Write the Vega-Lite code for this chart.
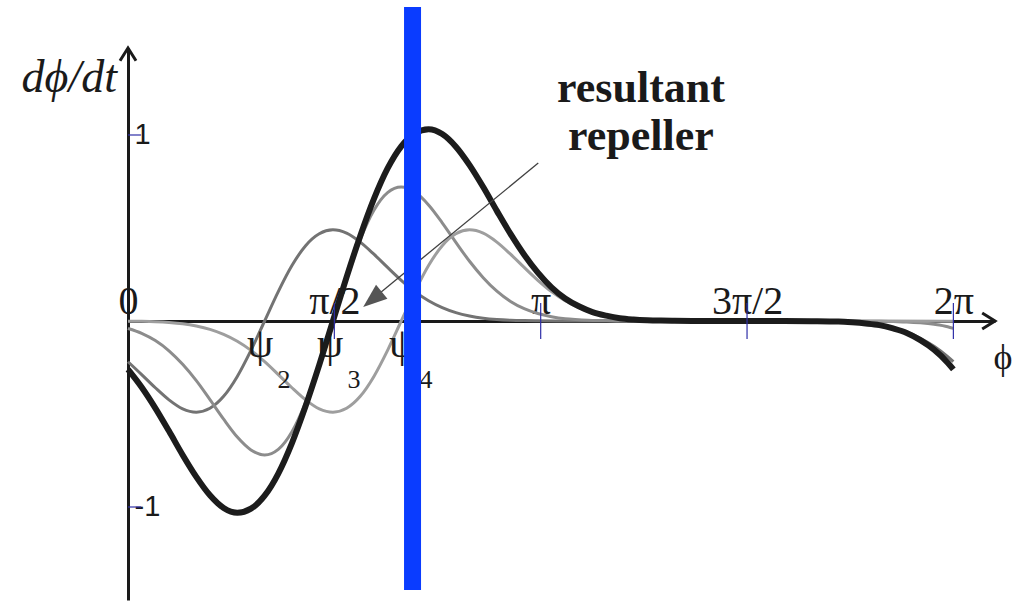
{
  "$schema": "https://vega.github.io/schema/vega-lite/v6.json",
  "width": 867,
  "height": 552,
  "autosize": {"type": "none"},
  "padding": {"left": 128, "top": 48, "right": 37, "bottom": 1},
  "background": "white",
  "config": {"view": {"stroke": null}},
  "data": {"values": [{}]},
  "datasets": {
    "curves": [
      {"s":"ψ2","p":0,"v":-0.219},{"s":"ψ2","p":0.104,"v":-0.288},{"s":"ψ2","p":0.208,"v":-0.359},{"s":"ψ2","p":0.312,"v":-0.424},{"s":"ψ2","p":0.416,"v":-0.472},{"s":"ψ2","p":0.52,"v":-0.49},{"s":"ψ2","p":0.624,"v":-0.469},{"s":"ψ2","p":0.728,"v":-0.405},{"s":"ψ2","p":0.832,"v":-0.298},{"s":"ψ2","p":0.936,"v":-0.158},{"s":"ψ2","p":1.04,"v":0},{"s":"ψ2","p":1.144,"v":0.158},{"s":"ψ2","p":1.248,"v":0.298},{"s":"ψ2","p":1.352,"v":0.405},{"s":"ψ2","p":1.456,"v":0.469},{"s":"ψ2","p":1.56,"v":0.49},{"s":"ψ2","p":1.664,"v":0.472},{"s":"ψ2","p":1.768,"v":0.424},{"s":"ψ2","p":1.872,"v":0.359},{"s":"ψ2","p":1.976,"v":0.288},{"s":"ψ2","p":2.08,"v":0.219},{"s":"ψ2","p":2.184,"v":0.158},{"s":"ψ2","p":2.288,"v":0.109},{"s":"ψ2","p":2.392,"v":0.072},{"s":"ψ2","p":2.496,"v":0.045},{"s":"ψ2","p":2.6,"v":0.027},{"s":"ψ2","p":2.704,"v":0.015},{"s":"ψ2","p":2.808,"v":0.008},{"s":"ψ2","p":2.912,"v":0.004},{"s":"ψ2","p":3.016,"v":0.002},{"s":"ψ2","p":3.12,"v":0.001},{"s":"ψ2","p":3.328,"v":0},{"s":"ψ2","p":4.16,"v":0},{"s":"ψ2","p":4.992,"v":0},{"s":"ψ2","p":5.2,"v":-0.001},{"s":"ψ2","p":5.408,"v":-0.003},{"s":"ψ2","p":5.512,"v":-0.007},{"s":"ψ2","p":5.616,"v":-0.012},{"s":"ψ2","p":5.72,"v":-0.021},{"s":"ψ2","p":5.824,"v":-0.037},{"s":"ψ2","p":5.928,"v":-0.059},{"s":"ψ2","p":6.032,"v":-0.093},{"s":"ψ2","p":6.136,"v":-0.136},{"s":"ψ2","p":6.24,"v":-0.192},{"s":"ψ2","p":6.283,"v":-0.219},
      {"s":"ψ3","p":0,"v":-0.04},{"s":"ψ3","p":0.104,"v":-0.066},{"s":"ψ3","p":0.208,"v":-0.105},{"s":"ψ3","p":0.312,"v":-0.16},{"s":"ψ3","p":0.416,"v":-0.233},{"s":"ψ3","p":0.52,"v":-0.321},{"s":"ψ3","p":0.624,"v":-0.423},{"s":"ψ3","p":0.728,"v":-0.528},{"s":"ψ3","p":0.832,"v":-0.624},{"s":"ψ3","p":0.936,"v":-0.693},{"s":"ψ3","p":1.04,"v":-0.72},{"s":"ψ3","p":1.144,"v":-0.69},{"s":"ψ3","p":1.248,"v":-0.595},{"s":"ψ3","p":1.352,"v":-0.438},{"s":"ψ3","p":1.456,"v":-0.233},{"s":"ψ3","p":1.56,"v":0},{"s":"ψ3","p":1.664,"v":0.233},{"s":"ψ3","p":1.768,"v":0.438},{"s":"ψ3","p":1.872,"v":0.595},{"s":"ψ3","p":1.976,"v":0.69},{"s":"ψ3","p":2.08,"v":0.72},{"s":"ψ3","p":2.184,"v":0.693},{"s":"ψ3","p":2.288,"v":0.624},{"s":"ψ3","p":2.392,"v":0.528},{"s":"ψ3","p":2.496,"v":0.423},{"s":"ψ3","p":2.6,"v":0.321},{"s":"ψ3","p":2.704,"v":0.233},{"s":"ψ3","p":2.808,"v":0.16},{"s":"ψ3","p":2.912,"v":0.105},{"s":"ψ3","p":3.016,"v":0.066},{"s":"ψ3","p":3.12,"v":0.04},{"s":"ψ3","p":3.224,"v":0.023},{"s":"ψ3","p":3.328,"v":0.012},{"s":"ψ3","p":3.432,"v":0.007},{"s":"ψ3","p":3.536,"v":0.003},{"s":"ψ3","p":3.64,"v":0.002},{"s":"ψ3","p":3.744,"v":0},{"s":"ψ3","p":4.368,"v":0},{"s":"ψ3","p":5.2,"v":0},{"s":"ψ3","p":5.616,"v":-0.001},{"s":"ψ3","p":5.72,"v":-0.001},{"s":"ψ3","p":5.824,"v":-0.003},{"s":"ψ3","p":5.928,"v":-0.005},{"s":"ψ3","p":6.032,"v":-0.01},{"s":"ψ3","p":6.136,"v":-0.018},{"s":"ψ3","p":6.24,"v":-0.031},{"s":"ψ3","p":6.283,"v":-0.04},
      {"s":"ψ4","p":0,"v":-0.001},{"s":"ψ4","p":0.104,"v":-0.002},{"s":"ψ4","p":0.208,"v":-0.004},{"s":"ψ4","p":0.312,"v":-0.008},{"s":"ψ4","p":0.416,"v":-0.015},{"s":"ψ4","p":0.52,"v":-0.027},{"s":"ψ4","p":0.624,"v":-0.045},{"s":"ψ4","p":0.728,"v":-0.072},{"s":"ψ4","p":0.832,"v":-0.109},{"s":"ψ4","p":0.936,"v":-0.158},{"s":"ψ4","p":1.04,"v":-0.219},{"s":"ψ4","p":1.144,"v":-0.288},{"s":"ψ4","p":1.248,"v":-0.359},{"s":"ψ4","p":1.352,"v":-0.424},{"s":"ψ4","p":1.456,"v":-0.472},{"s":"ψ4","p":1.56,"v":-0.49},{"s":"ψ4","p":1.664,"v":-0.469},{"s":"ψ4","p":1.768,"v":-0.405},{"s":"ψ4","p":1.872,"v":-0.298},{"s":"ψ4","p":1.976,"v":-0.158},{"s":"ψ4","p":2.08,"v":0},{"s":"ψ4","p":2.184,"v":0.158},{"s":"ψ4","p":2.288,"v":0.298},{"s":"ψ4","p":2.392,"v":0.405},{"s":"ψ4","p":2.496,"v":0.469},{"s":"ψ4","p":2.6,"v":0.49},{"s":"ψ4","p":2.704,"v":0.472},{"s":"ψ4","p":2.808,"v":0.424},{"s":"ψ4","p":2.912,"v":0.359},{"s":"ψ4","p":3.016,"v":0.288},{"s":"ψ4","p":3.12,"v":0.219},{"s":"ψ4","p":3.224,"v":0.158},{"s":"ψ4","p":3.328,"v":0.109},{"s":"ψ4","p":3.432,"v":0.072},{"s":"ψ4","p":3.536,"v":0.045},{"s":"ψ4","p":3.64,"v":0.027},{"s":"ψ4","p":3.744,"v":0.015},{"s":"ψ4","p":3.848,"v":0.008},{"s":"ψ4","p":3.952,"v":0.004},{"s":"ψ4","p":4.056,"v":0.002},{"s":"ψ4","p":4.16,"v":0.001},{"s":"ψ4","p":4.368,"v":0},{"s":"ψ4","p":5.2,"v":0},{"s":"ψ4","p":6.24,"v":-0.001},{"s":"ψ4","p":6.283,"v":-0.001},
      {"s":"resultant","p":0,"v":-0.26},{"s":"resultant","p":0.104,"v":-0.356},{"s":"resultant","p":0.208,"v":-0.468},{"s":"resultant","p":0.312,"v":-0.592},{"s":"resultant","p":0.416,"v":-0.72},{"s":"resultant","p":0.52,"v":-0.838},{"s":"resultant","p":0.624,"v":-0.937},{"s":"resultant","p":0.728,"v":-1.005},{"s":"resultant","p":0.832,"v":-1.031},{"s":"resultant","p":0.936,"v":-1.009},{"s":"resultant","p":1.04,"v":-0.939},{"s":"resultant","p":1.144,"v":-0.82},{"s":"resultant","p":1.248,"v":-0.656},{"s":"resultant","p":1.352,"v":-0.457},{"s":"resultant","p":1.456,"v":-0.236},{"s":"resultant","p":1.56,"v":0},{"s":"resultant","p":1.664,"v":0.236},{"s":"resultant","p":1.768,"v":0.457},{"s":"resultant","p":1.872,"v":0.656},{"s":"resultant","p":1.976,"v":0.82},{"s":"resultant","p":2.08,"v":0.939},{"s":"resultant","p":2.184,"v":1.009},{"s":"resultant","p":2.288,"v":1.031},{"s":"resultant","p":2.392,"v":1.005},{"s":"resultant","p":2.496,"v":0.937},{"s":"resultant","p":2.6,"v":0.838},{"s":"resultant","p":2.704,"v":0.72},{"s":"resultant","p":2.808,"v":0.592},{"s":"resultant","p":2.912,"v":0.468},{"s":"resultant","p":3.016,"v":0.356},{"s":"resultant","p":3.12,"v":0.26},{"s":"resultant","p":3.224,"v":0.181},{"s":"resultant","p":3.328,"v":0.121},{"s":"resultant","p":3.432,"v":0.079},{"s":"resultant","p":3.536,"v":0.048},{"s":"resultant","p":3.64,"v":0.029},{"s":"resultant","p":3.744,"v":0.015},{"s":"resultant","p":3.848,"v":0.008},{"s":"resultant","p":3.952,"v":0.004},{"s":"resultant","p":4.056,"v":0.002},{"s":"resultant","p":4.16,"v":0.001},{"s":"resultant","p":4.368,"v":0},{"s":"resultant","p":4.992,"v":0},{"s":"resultant","p":5.2,"v":-0.001},{"s":"resultant","p":5.408,"v":-0.003},{"s":"resultant","p":5.512,"v":-0.007},{"s":"resultant","p":5.616,"v":-0.013},{"s":"resultant","p":5.72,"v":-0.022},{"s":"resultant","p":5.824,"v":-0.04},{"s":"resultant","p":5.928,"v":-0.064},{"s":"resultant","p":6.032,"v":-0.103},{"s":"resultant","p":6.136,"v":-0.154},{"s":"resultant","p":6.24,"v":-0.224},{"s":"resultant","p":6.283,"v":-0.26}
    ],
    "xticks": [{"p": 1.5708}, {"p": 3.1416}, {"p": 4.7124}, {"p": 6.2832}],
    "yticks": [{"v": 1}, {"v": -1}],
    "psi": [{"k": "2", "p": 1.005}, {"k": "3", "p": 1.538}, {"k": "4", "p": 2.086}],
    "note": [{"t": "resultant", "v": 1.177}, {"t": "repeller", "v": 0.919}]
  },
  "layer": [
    {
      "data": {"name": "curves"},
      "transform": [{"filter": "datum.s !== 'resultant'"}],
      "mark": {"type": "line", "interpolate": "monotone", "strokeWidth": 3},
      "encoding": {
        "x": {
          "field": "p", "type": "quantitative",
          "scale": {"domain": [0, 6.6], "nice": false, "zero": false},
          "axis": {
            "orient": "bottom", "offset": -279, "title": null, "grid": false,
            "domainColor": "#1a1a1a", "domainWidth": 3,
            "ticks": false, "tickSize": 0,
            "values": [0, 1.5708, 3.1416, 4.7124, 6.2832],
            "labelExpr": "datum.value < 0.5 ? '0' : datum.value < 2 ? 'π/2' : datum.value < 4 ? 'π' : datum.value < 5.5 ? '3π/2' : '2π'",
            "labelFont": "Liberation Serif", "labelFontSize": 40, "labelColor": "#1a1a1a",
            "labelBaseline": "alphabetic", "labelPadding": -8,
            "labelFlush": false, "labelOverlap": false, "labelBound": false
          }
        },
        "y": {
          "field": "v", "type": "quantitative",
          "scale": {"domain": [-1.5, 1.4677], "nice": false, "zero": false},
          "axis": {
            "orient": "left", "title": null, "grid": false,
            "domainColor": "#1a1a1a", "domainWidth": 3,
            "ticks": false, "tickSize": 0,
            "values": [-1, 1],
            "labelExpr": "datum.value > 0 ? '1' : '-1'",
            "labelFont": "Liberation Sans", "labelFontSize": 29, "labelColor": "#1a1a1a",
            "labelAlign": "left", "labelBaseline": "middle", "labelPadding": -6,
            "labelOverlap": false, "labelBound": false
          }
        },
        "color": {
          "field": "s", "type": "nominal",
          "scale": {"domain": ["ψ2", "ψ3", "ψ4"], "range": ["#737373", "#8c8c8c", "#9e9e9e"]},
          "legend": null
        }
      }
    },
    {
      "data": {"name": "curves"},
      "transform": [{"filter": "datum.s === 'resultant'"}],
      "mark": {"type": "line", "interpolate": "monotone", "strokeWidth": 6, "color": "#1c1c1c"},
      "encoding": {
        "x": {"field": "p", "type": "quantitative"},
        "y": {"field": "v", "type": "quantitative"}
      }
    },
    {
      "data": {"name": "xticks"},
      "mark": {"type": "rule", "color": "#2f2fa8", "strokeWidth": 1.2},
      "encoding": {
        "x": {"field": "p", "type": "quantitative"},
        "y": {"datum": 0.097, "type": "quantitative"},
        "y2": {"datum": -0.097}
      }
    },
    {
      "data": {"name": "yticks"},
      "mark": {"type": "rule", "color": "#2f2fa8", "strokeWidth": 1.2},
      "encoding": {
        "x": {"datum": 0, "type": "quantitative"},
        "x2": {"datum": 0.1},
        "y": {"field": "v", "type": "quantitative"}
      }
    },
    {
      "mark": {"type": "point", "shape": "M-1.6,-1L0,0L-1.6,1", "filled": false, "size": 256, "stroke": "#1a1a1a", "strokeWidth": 3, "opacity": 1},
      "encoding": {
        "x": {"datum": 6.6, "type": "quantitative"},
        "y": {"datum": 0, "type": "quantitative"}
      }
    },
    {
      "mark": {"type": "point", "shape": "M-1,1.6L0,0L1,1.6", "filled": false, "size": 256, "stroke": "#1a1a1a", "strokeWidth": 3, "opacity": 1},
      "encoding": {
        "x": {"datum": 0, "type": "quantitative"},
        "y": {"datum": 1.4677, "type": "quantitative"}
      }
    },
    {
      "mark": {"type": "rule", "color": "#404040", "strokeWidth": 1.3},
      "encoding": {
        "x": {"datum": 3.123, "type": "quantitative"},
        "y": {"datum": 0.849, "type": "quantitative"},
        "x2": {"datum": 1.881},
        "y2": {"datum": 0.129}
      }
    },
    {
      "mark": {"type": "point", "shape": "M1,0L-1,-0.75L-1,0.75Z", "filled": true, "size": 576, "angle": 140.6, "color": "#555555", "opacity": 1},
      "encoding": {
        "x": {"datum": 1.861, "type": "quantitative"},
        "y": {"datum": 0.116, "type": "quantitative"}
      }
    },
    {
      "data": {"name": "note"},
      "mark": {"type": "text", "font": "Liberation Serif", "fontWeight": "bold", "fontSize": 44, "align": "center", "baseline": "alphabetic", "color": "#1a1a1a"},
      "encoding": {
        "x": {"datum": 3.905, "type": "quantitative"},
        "y": {"field": "v", "type": "quantitative"},
        "text": {"field": "t"}
      }
    },
    {
      "mark": {"type": "text", "text": "dϕ/dt", "font": "Liberation Serif", "fontStyle": "italic", "fontSize": 46, "align": "right", "baseline": "alphabetic", "color": "#1a1a1a"},
      "encoding": {
        "x": {"datum": -0.084, "type": "quantitative"},
        "y": {"datum": 1.231, "type": "quantitative"}
      }
    },
    {
      "mark": {"type": "text", "text": "ϕ", "font": "Liberation Serif", "fontSize": 36, "align": "center", "baseline": "alphabetic", "color": "#1a1a1a"},
      "encoding": {
        "x": {"datum": 6.661, "type": "quantitative"},
        "y": {"datum": -0.258, "type": "quantitative"}
      }
    },
    {
      "data": {"name": "psi"},
      "mark": {"type": "text", "text": "ψ", "font": "Liberation Serif", "fontSize": 42, "align": "center", "baseline": "alphabetic", "color": "#1a1a1a"},
      "encoding": {
        "x": {"field": "p", "type": "quantitative"},
        "y": {"datum": -0.194, "type": "quantitative"}
      }
    },
    {
      "data": {"name": "psi"},
      "mark": {"type": "text", "font": "Liberation Serif", "fontSize": 26, "align": "center", "baseline": "alphabetic", "dx": 24, "color": "#1a1a1a"},
      "encoding": {
        "x": {"field": "p", "type": "quantitative"},
        "y": {"datum": -0.36, "type": "quantitative"},
        "text": {"field": "k"}
      }
    },
    {
      "mark": {"type": "rule", "color": "#0a3cff", "strokeWidth": 17},
      "encoding": {
        "x": {"datum": 2.166, "type": "quantitative"},
        "y": {"datum": 1.688, "type": "quantitative"},
        "y2": {"datum": -1.446}
      }
    }
  ]
}
